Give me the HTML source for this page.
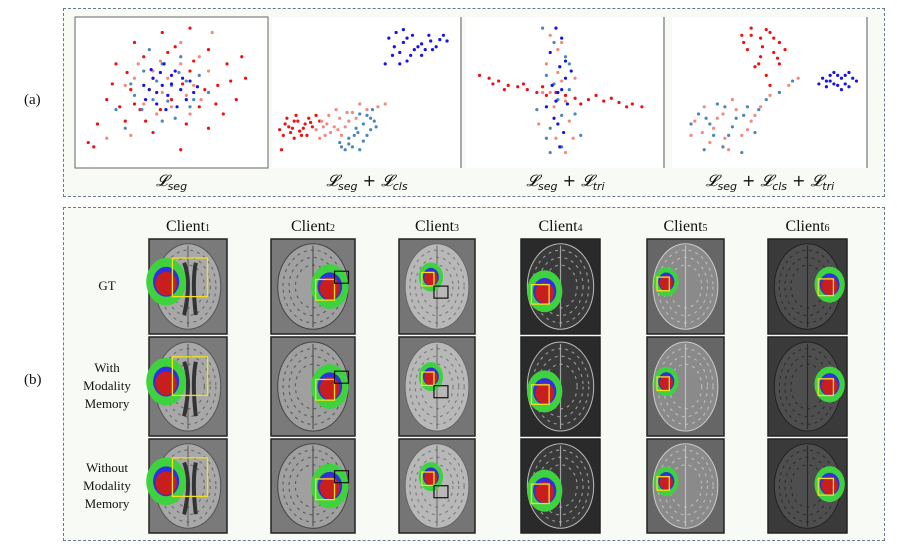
<!DOCTYPE html>
<html><head><meta charset="utf-8"><style>
html,body{margin:0;padding:0;background:#fff;}
body{width:897px;height:551px;position:relative;overflow:hidden;font-family:"Liberation Serif",serif;}
.panel{position:absolute;background:#f8faf6;border:1px dashed #6a7a8a;box-sizing:border-box;}
.lbl{position:absolute;font-size:15px;color:#111;}
</style></head><body>
<div class="panel" style="left:63px;top:8px;width:822px;height:189px"></div>
<div class="panel" style="left:63px;top:207px;width:822px;height:334px"></div>
<div class="lbl" style="left:24px;top:92px">(a)</div>
<div class="lbl" style="left:24px;top:372px">(b)</div>
<svg id="svg" width="897" height="551" style="position:absolute;left:0;top:0"></svg>
<script>
// scatter data (percent coords in each plot box; y down)
const p1Red=[[20,30],[30,15],[45,8],[60,5],[80,30],[88,25],[90,40],[85,55],[78,65],[70,75],[55,90],[40,78],[25,70],[15,55],[10,72],[5,85],[8,88],[28,48],[40,40],[60,35],[70,20],[35,25],[50,55],[65,60],[22,60],[75,45],[58,72],[33,62],[48,22],[82,42],[26,36],[36,70],[52,18],[68,48],[44,62],[30,58],[62,28],[74,58],[18,44],[56,44]];
const p1Salmon=[[30,40],[40,35],[55,30],[62,45],[50,60],[35,58],[25,45],[70,35],[45,50],[60,65],[28,80],[15,82],[72,8],[55,15],[42,65],[65,25],[48,40],[38,48],[58,52],[32,30],[66,55],[44,28]];
const p1Steel=[[35,35],[45,30],[58,42],[50,45],[40,55],[30,52],[62,55],[55,25],[45,70],[25,75],[70,50],[20,62],[52,68],[65,38],[38,20],[42,42],[54,36],[34,62],[60,60],[48,56],[28,44]];
const p1Blue=[[40,40],[45,45],[50,38],[55,48],[48,52],[38,48],[60,42],[42,58],[52,35],[35,45],[58,55],[46,30],[53,60],[44,36],[62,50],[36,55],[50,44],[42,50],[56,40],[47,62],[39,34],[64,46]];
const p2Red=[[5,72],[8,78],[12,70],[15,75],[10,82],[18,68],[6,68],[14,80],[20,74],[3,90],[22,66],[9,75],[16,72],[4,80],[7,74],[11,66],[17,80],[13,77],[19,71],[2,76],[24,70],[10,70]];
const p2Salmon=[[22,76],[28,72],[35,68],[30,78],[38,74],[25,70],[42,64],[33,62],[46,58],[56,60],[60,58],[27,80],[40,70],[50,62],[24,82],[32,74],[36,80],[44,68],[29,66],[39,64],[34,76],[26,74]];
const p2Steel=[[35,85],[40,82],[45,78],[48,72],[52,68],[50,80],[42,88],[55,74],[46,65],[53,62],[38,90],[44,75],[48,84],[52,76],[40,86],[54,70],[46,90],[50,66],[36,88],[43,80]];
const p2Blue=[[62,12],[66,8],[70,15],[75,10],[80,16],[85,14],[90,13],[94,14],[68,22],[74,24],[82,20],[60,30],[72,28],[78,18],[88,18],[65,18],[70,6],[76,20],[84,10],[92,10],[64,24],[80,24],[86,20],[72,12],[68,30]];
const p3Red=[[5,38],[10,40],[15,42],[20,45],[25,46],[30,48],[35,50],[40,52],[55,54],[62,55],[70,56],[78,57],[85,58],[90,60],[45,50],[50,52],[18,48],[66,52],[12,44],[28,44],[58,58],[74,54],[82,60],[38,46]];
const p3Salmon=[[42,10],[46,20],[40,30],[48,42],[44,60],[52,70],[45,82],[50,92],[38,50],[55,40],[36,72],[48,15],[42,50],[50,56],[46,36],[54,82]];
const p3Steel=[[38,5],[44,15],[50,25],[40,38],[46,55],[55,65],[42,75],[48,88],[35,62],[58,80],[52,48],[42,92],[48,66],[44,44],[52,30],[40,82]];
const p3Blue=[[45,5],[48,12],[42,22],[47,32],[50,40],[46,50],[51,58],[44,68],[49,78],[47,88],[43,45],[53,35],[40,60],[48,48],[45,56],[50,28],[46,72]];
const p4Red=[[35,10],[40,5],[45,12],[50,8],[55,15],[38,20],[45,25],[52,22],[42,32],[48,38],[55,30],[36,15],[58,20],[50,45],[40,10],[46,18],[52,12],[44,30],[54,26],[48,6]];
const p4Salmon=[[10,70],[15,60],[20,75],[25,65],[30,55],[35,80],[40,70],[45,60],[50,52],[60,45],[65,40],[18,85],[28,90],[8,80],[22,68],[32,62],[38,76],[14,78],[26,82],[42,66],[55,50]];
const p4Steel=[[12,65],[18,72],[22,58],[28,80],[32,68],[38,60],[42,78],[48,55],[55,50],[62,42],[15,90],[25,88],[35,92],[8,72],[20,80],[30,74],[36,66],[44,62],[16,68],[26,60]];
const p4Blue=[[78,40],[82,42],[86,38],[90,44],[94,40],[80,46],[88,48],[84,36],[92,36],[76,44],[86,45],[96,42],[82,38],[88,40],[92,46],[84,44],[90,38],[80,42]];
const plots=[
 {x:75,y:17,w:193,h:151,series:[p1Red,p1Salmon,p1Steel,p1Blue],frame:true},
 {x:272,y:17,w:190,h:151,series:[p2Red,p2Salmon,p2Steel,p2Blue],frame:false},
 {x:466,y:17,w:199,h:151,series:[p3Red,p3Salmon,p3Steel,p3Blue],frame:false},
 {x:672,y:17,w:196,h:151,series:[p4Red,p4Salmon,p4Steel,p4Blue],frame:false}
];
const colors=["#f01010","#f4887e","#4a86b8","#1414e6"];
const NS="http://www.w3.org/2000/svg";
const svg=document.getElementById('svg');
function mk(t,a,p){const e=document.createElementNS(NS,t);for(const k in a)e.setAttribute(k,a[k]);(p||svg).appendChild(e);return e;}
const captions=["𝓛<tspan font-size='11' dy='4'>seg</tspan>","𝓛<tspan font-size='11' dy='4'>seg</tspan><tspan dy='-4'> + 𝓛</tspan><tspan font-size='11' dy='4'>cls</tspan>","𝓛<tspan font-size='11' dy='4'>seg</tspan><tspan dy='-4'> + 𝓛</tspan><tspan font-size='11' dy='4'>tri</tspan>","𝓛<tspan font-size='11' dy='4'>seg</tspan><tspan dy='-4'> + 𝓛</tspan><tspan font-size='11' dy='4'>cls</tspan><tspan dy='-4'> + 𝓛</tspan><tspan font-size='11' dy='4'>tri</tspan>"];
plots.forEach((p,i)=>{
  const g=mk('g',{});
  
  
  mk('rect',{x:p.x,y:p.y,width:p.w,height:p.h,fill:'#fff',stroke:p.frame?'#666':'none'},g);
  if(i>0) mk('line',{x1:p.x+p.w-1,y1:p.y,x2:p.x+p.w-1,y2:p.y+p.h,stroke:'#aaa','stroke-width':2},g);
  const sx=v=>p.x+4+v/100*(p.w-8), sy=v=>p.y+4+v/100*(p.h-8);
  p.series.forEach((s,k)=>{
    s.forEach(pt=>{
      const c=mk('circle',{cx:sx(pt[0]),cy:sy(pt[1]),r:1.6,fill:colors[k]},g);
      
      
    });
  });
  const t=mk('text',{x:p.x+p.w/2,y:186,'text-anchor':'middle','font-size':16,'font-family':'DejaVu Sans, sans-serif','font-style':'italic',fill:'#111'});
  
  
  t.innerHTML=captions[i];
});
// brain grid
const colX=[[149,227],[271,355],[399,475],[521,600],[647,724],[768,847]];
const rowY=[[239,334],[337,436],[439,533]];
const bg=["#7a7a7a","#7a7a7a","#757575","#2a2a2a","#666","#3a3a3a"];
const brain=["#a8a8a8","#a0a0a0","#b8b8b8","#3a3a3a","#8a8a8a","#4e4e4e"];
const fold=["#555","#444","#666","#bbb","#ccc","#222"];
const tumorX=[0.22,0.7,0.42,0.3,0.25,0.78];
const tumorY=[0.45,0.5,0.4,0.55,0.45,0.48];
const tumorR=[0.16,0.14,0.1,0.14,0.1,0.12];
colX.forEach((c,i)=>{
  const t=mk('text',{x:(c[0]+c[1])/2,y:231,'text-anchor':'middle','font-size':16,'font-family':'Liberation Serif, serif',fill:'#111'});
  
  
  t.innerHTML="Client<tspan font-size='10'>"+(i+1)+"</tspan>";
  rowY.forEach((r,j)=>{
    const g=mk('g',{});
    
    
    const w=c[1]-c[0],h=r[1]-r[0];
    const cx=c[0]+w/2,cy=r[0]+h/2;
    mk('rect',{x:c[0],y:r[0],width:w,height:h,fill:bg[i],stroke:'#222','stroke-width':1.5},g);
    mk('ellipse',{cx:cx,cy:cy,rx:w*0.42,ry:h*0.45,fill:brain[i],stroke:fold[i],'stroke-width':1},g);
    [0.85,0.68,0.5].forEach(f=>mk('ellipse',{cx:cx,cy:cy,rx:w*0.42*f,ry:h*0.45*f,fill:'none',stroke:fold[i],'stroke-width':1.2,'stroke-dasharray':'3 4',opacity:0.7},g));
    mk('line',{x1:cx,y1:r[0]+h*0.07,x2:cx,y2:r[0]+h*0.93,stroke:fold[i],'stroke-width':1.2,opacity:0.8},g);
    if(i==0) mk('path',{d:`M${c[0]+w*0.45},${r[0]+h*0.25} q${w*0.1},${h*0.2} 0,${h*0.55} M${c[0]+w*0.6},${r[0]+h*0.25} q-${w*0.05},${h*0.2} 0,${h*0.55}`,stroke:'#333','stroke-width':4,fill:'none'},g);
    const tx=c[0]+w*tumorX[i],ty=r[0]+h*tumorY[i],tr=w*tumorR[i];
    mk('ellipse',{cx:tx,cy:ty,rx:tr*1.6,ry:tr*1.9,fill:'#3ed23e'},g);
    mk('ellipse',{cx:tx,cy:ty,rx:tr*1.05,ry:tr*1.2,fill:'#3030e0'},g);
    mk('ellipse',{cx:tx,cy:ty+tr*0.15,rx:tr*0.85,ry:tr*0.95,fill:'#c81e1e'},g);
    const bx=i==0?c[0]+w*0.3:tx-tr*1.2, by=i==0?r[0]+h*0.2:ty-tr*0.6;
    const bs=i==0?w*0.45:Math.max(12,tr*1.6);
    mk('rect',{x:bx,y:by,width:bs,height:bs*1.1,fill:'none',stroke:'#f0e020','stroke-width':1.3},g);
    if(i==1||i==2) mk('rect',{x:tx+tr*0.4,y:ty+(i==2?tr*1.2:-tr*1.3),width:14,height:12,fill:'none',stroke:'#111','stroke-width':1.2},g);
  });
});
const rowLabels=[["GT"],["With","Modality","Memory"],["Without","Modality","Memory"]];
const rowCenters=[286,386,486];
rowLabels.forEach((lines,j)=>{
  const t=mk('text',{x:107,'text-anchor':'middle','font-size':13,'font-family':'Liberation Serif, serif',fill:'#111'});
  
  
  const y0=rowCenters[j]-(lines.length-1)*9+4;
  t.innerHTML=lines.map((l,k)=>`<tspan x="107" y="${y0+k*18}">${l}</tspan>`).join('');
});
</script>
</body></html>
